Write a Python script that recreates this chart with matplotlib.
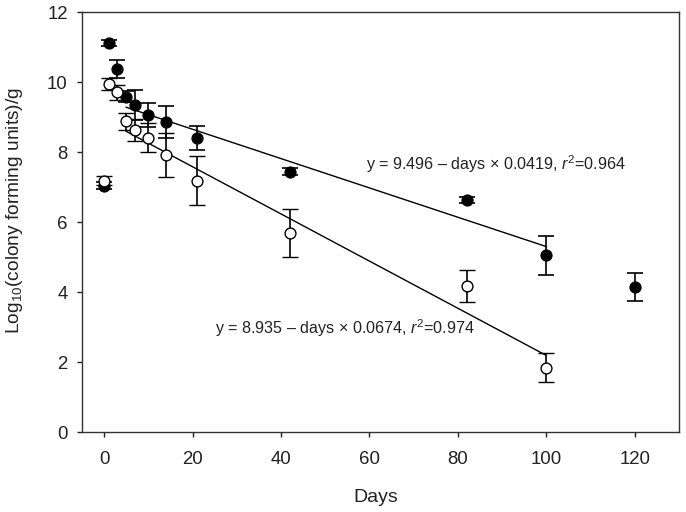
import matplotlib
matplotlib.use("Agg")
import matplotlib.pyplot as plt
import numpy as np

plt.rcParams['font.family'] = ['Liberation Sans', 'DejaVu Sans']
plt.rcParams['mathtext.fontset'] = 'custom'
plt.rcParams['mathtext.rm'] = 'Liberation Sans'
plt.rcParams['mathtext.it'] = 'Liberation Sans:italic'

# filled circles
days_f = [0, 1, 3, 5, 7, 10, 14, 21, 42, 82, 100, 120]
log_f = [7.04, 11.13, 10.38, 9.59, 9.35, 9.07, 8.87, 8.41, 7.44, 6.64, 5.06, 4.16]
err_f = [0.1, 0.08, 0.26, 0.15, 0.43, 0.34, 0.45, 0.35, 0.1, 0.08, 0.56, 0.40]

# open circles
days_o = [0, 1, 3, 5, 7, 10, 14, 21, 42, 82, 100]
log_o = [7.19, 9.95, 9.71, 8.89, 8.64, 8.42, 7.92, 7.19, 5.69, 4.18, 1.85]
err_o = [0.13, 0.16, 0.22, 0.24, 0.32, 0.42, 0.63, 0.69, 0.69, 0.45, 0.42]

# regression fits (intercept, slope) from the labels
fit_f = (9.496, 0.0419)
fit_o = (8.935, 0.0674)
fit_range = [5, 100]

fig = plt.figure(figsize=(6.86, 5.12), dpi=100)
ax = fig.add_axes([0.1195, 0.1557, 0.8703, 0.8203])

xl = np.array(fit_range)
ax.plot(xl, fit_f[0] - xl * fit_f[1], color='black', lw=1.0, zorder=1)
ax.plot(xl, fit_o[0] - xl * fit_o[1], color='black', lw=1.0, zorder=1)

ax.errorbar(days_f, log_f, yerr=err_f, fmt='o', color='black', mfc='black', mec='black',
            ms=7.8, capsize=5.5, elinewidth=1.2, capthick=1.2, zorder=3)
ax.errorbar(days_o, log_o, yerr=err_o, fmt='o', color='black', mfc='white', mec='black',
            ms=7.8, mew=1.0, capsize=5.5, elinewidth=1.2, capthick=1.2, zorder=4)

ax.text(59.3, 7.67, r'y = 9.496 – days × 0.0419, $\it{r}^2$=0.964', fontsize=11.6,
        va='center', ha='left', color='#222222')
ax.text(25.0, 2.98, r'y = 8.935 – days × 0.0674, $\it{r}^2$=0.974', fontsize=11.6,
        va='center', ha='left', color='#222222')

ax.set_xlim(-5, 130)
ax.set_ylim(0, 12)
ax.set_xticks([0, 20, 40, 60, 80, 100, 120])
ax.set_yticks([0, 2, 4, 6, 8, 10, 12])
ax.tick_params(direction='out', length=3.8, width=1, labelsize=13.4, colors='#222222',
               top=False, right=False)
ax.tick_params(axis='x', pad=9.5)
ax.tick_params(axis='y', pad=6.5)
for s in ax.spines.values():
    s.set_color('#333333')
    s.set_linewidth(1.0)

ax.set_xlabel('Days', fontsize=14, color='#222222')
ax.set_ylabel(r'Log$_{10}$(colony forming units)/g', fontsize=13.8, color='#222222')
ax.xaxis.set_label_coords(0.492, -0.135)
ax.yaxis.set_label_coords(-0.0955, 0.527)

fig.savefig('out.png', dpi=100)
